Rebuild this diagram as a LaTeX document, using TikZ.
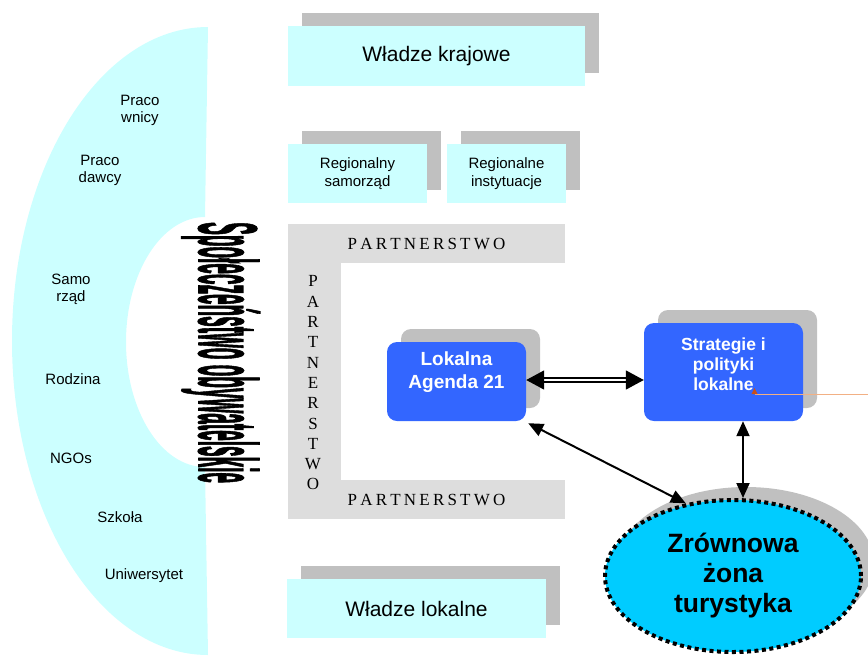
\documentclass[tikz,border=0pt]{standalone}
\usepackage{fontspec}
\setmainfont{Liberation Sans}
\newfontfamily\serifpart{Liberation Serif}
\newfontfamily\wafont[FakeBold=2]{Liberation Sans}
\usetikzlibrary{shapes.geometric,arrows.meta,shadows}
\definecolor{lcyan}{HTML}{CCFFFF}
\definecolor{sgray}{HTML}{C0C0C0}
\definecolor{fgray}{HTML}{DDDDDD}
\definecolor{bblue}{HTML}{3366FF}
\definecolor{ecyan}{HTML}{00CCFF}
\definecolor{oline}{HTML}{F2B084}
\definecolor{otri}{HTML}{C8501A}
\newcommand\pk{\kern3.2pt}
\newcommand\PARTW{P\pk A\pk R\pk T\pk N\pk E\pk R\pk S\pk T\pk W\pk O}
\begin{document}
\begin{tikzpicture}[x=1pt,y=-1pt,
  lab/.style={font=\fontsize{15}{17}\selectfont, align=center, inner sep=0},
  cbox/.style={fill=lcyan, inner sep=0, align=center,
    general shadow={fill=sgray, draw=none, shadow xshift=14pt, shadow yshift=13pt}},
  bbox/.style={fill=bblue, rounded corners=10pt, inner sep=0,
    general shadow={fill=sgray, draw=none, shadow xshift=14pt, shadow yshift=13pt}},
  btext/.style={text=white, font=\bfseries\fontsize{19}{23}\selectfont, align=center, inner sep=0},
  fbar/.style={fill=fgray, inner sep=0},
  ptext/.style={font=\serifpart\fontsize{17}{20.3}\selectfont, align=center, inner sep=0},
  arr/.style={line width=2pt, {Triangle[length=15pt,width=13pt]}-{Triangle[length=15pt,width=13pt]}},
  dblarr/.style={double, double distance=2.2pt, line width=1.6pt,
    {Triangle[length=18pt,width=19pt]}-{Triangle[length=18pt,width=19pt]}}
]
\useasboundingbox (0,0) rectangle (868,657);

% crescent
\fill[lcyan] (208,27) arc[start angle=-90, end angle=-270, x radius=196, y radius=314]
  -- (205,467) arc[start angle=90, end angle=270, x radius=79, y radius=125] -- cycle;

\node[lab] (l1) at (140,110) {Praco\\wnicy};
\node[lab] (l2) at (100,170) {Praco\\dawcy};
\node[lab] (l3) at (71,289) {Samo\\rząd};
\node[lab] (l4) at (73,379) {Rodzina};
\node[lab] (l5) at (71,458) {NGOs};
\node[lab] (l6) at (120,517) {Szkoła};
\node[lab] (l7) at (144,576) {Uniwersytet};

% vertical wordart text
\node[rotate=-90, anchor=base west, inner sep=0] (so) at (199,222)
  {\scalebox{1.9}[8.3]{\wafont\bfseries\fontsize{10}{12}\selectfont Społeczeństwo obywatelskie}};

% top boxes
\node[cbox, minimum width=297, minimum height=60, font=\fontsize{21}{25}\selectfont] (wk) at (436.5,56) {Władze krajowe};
\node[cbox, minimum width=139, minimum height=59, font=\fontsize{15}{18}\selectfont] (rs) at (357.5,173.5) {Regionalny\\samorząd};
\node[cbox, minimum width=119, minimum height=59, font=\fontsize{15}{18}\selectfont] (ri) at (506.5,173.5) {Regionalne\\instytuacje};
\node[cbox, minimum width=259, minimum height=59, font=\fontsize{21}{25}\selectfont] (wl) at (416.5,608.5) {Władze lokalne};

% partnerstwo frame
\node[fbar, minimum width=53, minimum height=295] (pleft) at (314.5,371.5) {};
\node[fbar, minimum width=277, minimum height=39, font=\serifpart\fontsize{17}{20}\selectfont] (ptop) at (426.5,243.5) {\PARTW};
\node[fbar, minimum width=277, minimum height=39, font=\serifpart\fontsize{17}{20}\selectfont] (pbot) at (426.5,499.5) {\PARTW};
\node[ptext] (pvert) at (313,383) {P\\A\\R\\T\\N\\E\\R\\S\\T\\W\\O};

% blue boxes
\node[bbox, minimum width=139, minimum height=79] (lok) at (456.5,381.5) {};
\node[btext] (lokt) at ([yshift=9pt]lok.center) {Lokalna\\Agenda 21};
\node[bbox, minimum width=159, minimum height=98] (str) at (723.5,372) {};
\node[btext, font=\bfseries\fontsize{17.5}{20}\selectfont] (strt) at ([yshift=8pt]str.center) {Strategie i\\polityki\\lokalne};

% ellipse
\node[ellipse, minimum width=256, minimum height=152, inner sep=0, fill=ecyan, draw=black,
  line width=4pt, dash pattern=on 4pt off 3.5pt,
  general shadow={fill=sgray, draw=none, shadow xshift=13pt, shadow yshift=13pt},
  font=\bfseries\fontsize{26.5}{30}\selectfont, align=center] (zr) at (733,576) {Zrównowa\\żona\\turystyka};

% arrows
\draw[dblarr] ([yshift=1.5pt]lok.east) -- ([yshift=1.5pt]lok.east -| str.west);
\draw[arr] ([shift={(2pt,-2pt)}]lok.south east) -- (zr.123);
\draw[arr] ([xshift=19.5pt]str.south) -- ([xshift=10pt]zr.north);

% orange line
\coordinate (oend) at (868,394);
\coordinate (otip) at (754.5,394);
\draw[oline, line width=1pt] (oend) -- (otip);
\fill[otri] ([xshift=-3pt]otip) -- ([xshift=3pt]otip) -- ([yshift=6pt]otip) -- cycle;
\end{tikzpicture}
\end{document}
